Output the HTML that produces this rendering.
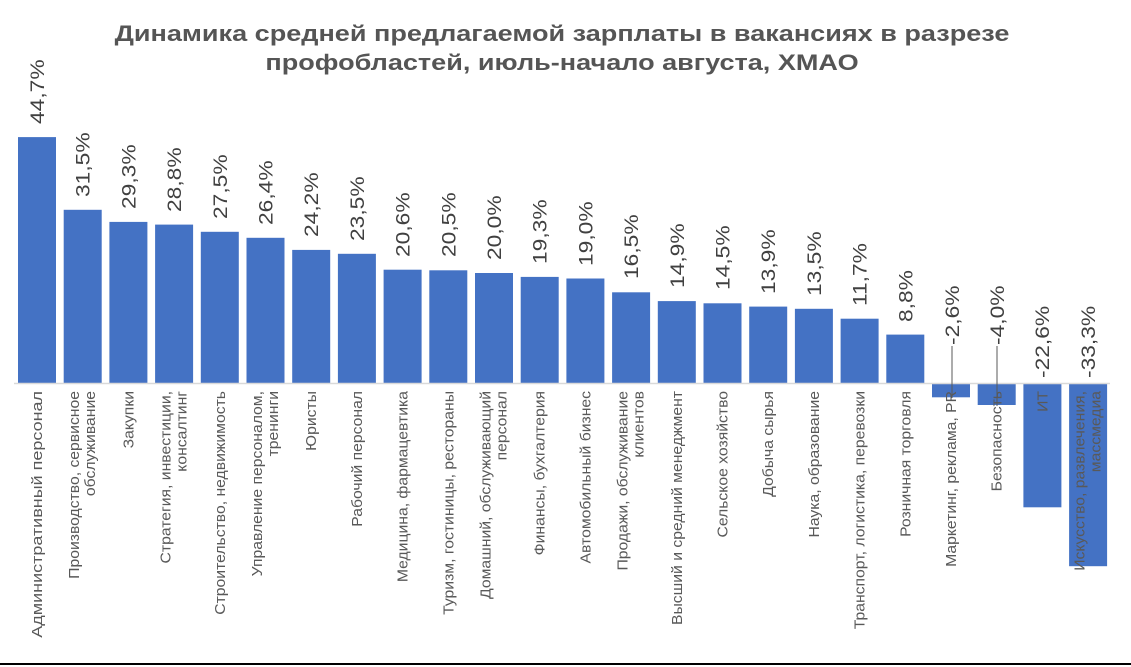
<!DOCTYPE html>
<html><head><meta charset="utf-8"><style>
body{margin:0;background:#fff;}
svg{display:block;font-family:"Liberation Sans",Arial,sans-serif;}
.v{font-size:19px;fill:#404040;}
.c{font-size:15px;fill:#595959;}
.t{font-size:22px;font-weight:bold;fill:#555;}
</style></head><body>
<svg width="1131" height="667" viewBox="0 0 1131 667">
<text class="t" transform="translate(562,41) scale(1.23,1)" text-anchor="middle">Динамика средней предлагаемой зарплаты в вакансиях в разрезе</text>
<text class="t" transform="translate(562,70) scale(1.23,1)" text-anchor="middle">профобластей, июль-начало августа, ХМАО</text>
<g fill="#4472c4">
<rect x="18" y="137.1" width="38" height="245.9"/>
<rect x="63.7" y="209.8" width="38" height="173.2"/>
<rect x="109.4" y="221.9" width="38" height="161.1"/>
<rect x="155.1" y="224.6" width="38" height="158.4"/>
<rect x="200.8" y="231.8" width="38" height="151.2"/>
<rect x="246.5" y="237.8" width="38" height="145.2"/>
<rect x="292.2" y="249.9" width="38" height="133.1"/>
<rect x="337.9" y="253.8" width="38" height="129.2"/>
<rect x="383.6" y="269.7" width="38" height="113.3"/>
<rect x="429.3" y="270.3" width="38" height="112.7"/>
<rect x="475" y="273" width="38" height="110"/>
<rect x="520.7" y="276.9" width="38" height="106.1"/>
<rect x="566.4" y="278.5" width="38" height="104.5"/>
<rect x="612.1" y="292.3" width="38" height="90.7"/>
<rect x="657.8" y="301.1" width="38" height="81.9"/>
<rect x="703.5" y="303.3" width="38" height="79.7"/>
<rect x="749.2" y="306.6" width="38" height="76.4"/>
<rect x="794.9" y="308.8" width="38" height="74.2"/>
<rect x="840.6" y="318.7" width="38" height="64.3"/>
<rect x="886.3" y="334.6" width="38" height="48.4"/>
<rect x="932" y="384" width="38" height="13.3"/>
<rect x="977.7" y="384" width="38" height="21"/>
<rect x="1023.4" y="384" width="38" height="123.3"/>
<rect x="1069.1" y="384" width="38" height="182.2"/>
</g>
<line x1="14" y1="383.5" x2="1110" y2="383.5" stroke="#d9d9d9" stroke-width="1.5"/>
<line x1="0" y1="664" x2="1131" y2="664" stroke="#000" stroke-width="2"/>
<line x1="952" y1="346" x2="952" y2="398" stroke="#595959"/>
<line x1="997" y1="346" x2="997" y2="406" stroke="#595959"/>
<g class="v">
<text transform="translate(44,124) rotate(-90) scale(1.2,1)">44,7%</text>
<text transform="translate(89.7,197) rotate(-90) scale(1.2,1)">31,5%</text>
<text transform="translate(135.4,209) rotate(-90) scale(1.2,1)">29,3%</text>
<text transform="translate(181.1,212) rotate(-90) scale(1.2,1)">28,8%</text>
<text transform="translate(226.8,219) rotate(-90) scale(1.2,1)">27,5%</text>
<text transform="translate(272.5,225) rotate(-90) scale(1.2,1)">26,4%</text>
<text transform="translate(318.2,237) rotate(-90) scale(1.2,1)">24,2%</text>
<text transform="translate(363.9,241) rotate(-90) scale(1.2,1)">23,5%</text>
<text transform="translate(409.6,257) rotate(-90) scale(1.2,1)">20,6%</text>
<text transform="translate(455.3,257) rotate(-90) scale(1.2,1)">20,5%</text>
<text transform="translate(501,260) rotate(-90) scale(1.2,1)">20,0%</text>
<text transform="translate(546.7,264) rotate(-90) scale(1.2,1)">19,3%</text>
<text transform="translate(592.4,266) rotate(-90) scale(1.2,1)">19,0%</text>
<text transform="translate(638.1,279) rotate(-90) scale(1.2,1)">16,5%</text>
<text transform="translate(683.8,288) rotate(-90) scale(1.2,1)">14,9%</text>
<text transform="translate(729.5,290) rotate(-90) scale(1.2,1)">14,5%</text>
<text transform="translate(775.2,294) rotate(-90) scale(1.2,1)">13,9%</text>
<text transform="translate(820.9,296) rotate(-90) scale(1.2,1)">13,5%</text>
<text transform="translate(866.6,306) rotate(-90) scale(1.2,1)">11,7%</text>
<text transform="translate(912.3,322) rotate(-90) scale(1.2,1)">8,8%</text>
<text transform="translate(959,345) rotate(-90) scale(1.2,1)">-2,6%</text>
<text transform="translate(1004,345) rotate(-90) scale(1.2,1)">-4,0%</text>
<text transform="translate(1049,378) rotate(-90) scale(1.2,1)">-22,6%</text>
<text transform="translate(1095,378) rotate(-90) scale(1.2,1)">-33,3%</text>
</g>
<g class="c" text-anchor="end">
<text transform="translate(42,391) rotate(-90) scale(1.2,1)">Административный персонал</text>
<text transform="translate(79,391) rotate(-90) scale(1.05,1)"><tspan x="0">Производство, сервисное</tspan><tspan x="0" dy="16">обслуживание</tspan></text>
<text transform="translate(133.4,391) rotate(-90) scale(1.05,1)">Закупки</text>
<text transform="translate(170.6,391) rotate(-90) scale(1.05,1)"><tspan x="0">Стратегия, инвестиции,</tspan><tspan x="0" dy="16">консалтинг</tspan></text>
<text transform="translate(224.8,391) rotate(-90) scale(1.05,1)">Строительство, недвижимость</text>
<text transform="translate(262,391) rotate(-90) scale(1.05,1)"><tspan x="0">Управление персоналом,</tspan><tspan x="0" dy="16">тренинги</tspan></text>
<text transform="translate(316.2,391) rotate(-90) scale(1.05,1)">Юристы</text>
<text transform="translate(361.9,391) rotate(-90) scale(1.05,1)">Рабочий персонал</text>
<text transform="translate(407.6,391) rotate(-90) scale(1.05,1)">Медицина, фармацевтика</text>
<text transform="translate(453.3,391) rotate(-90) scale(1.05,1)">Туризм, гостиницы, рестораны</text>
<text transform="translate(490.5,391) rotate(-90) scale(1.05,1)"><tspan x="0">Домашний, обслуживающий</tspan><tspan x="0" dy="16">персонал</tspan></text>
<text transform="translate(544.7,391) rotate(-90) scale(1.05,1)">Финансы, бухгалтерия</text>
<text transform="translate(590.4,391) rotate(-90) scale(1.05,1)">Автомобильный бизнес</text>
<text transform="translate(627.6,391) rotate(-90) scale(1.05,1)"><tspan x="0">Продажи, обслуживание</tspan><tspan x="0" dy="16">клиентов</tspan></text>
<text transform="translate(681.8,391) rotate(-90) scale(1.05,1)">Высший и средний менеджмент</text>
<text transform="translate(727.5,391) rotate(-90) scale(1.05,1)">Сельское хозяйство</text>
<text transform="translate(773.2,391) rotate(-90) scale(1.05,1)">Добыча сырья</text>
<text transform="translate(818.9,391) rotate(-90) scale(1.05,1)">Наука, образование</text>
<text transform="translate(864.6,391) rotate(-90) scale(1.05,1)">Транспорт, логистика, перевозки</text>
<text transform="translate(910.3,391) rotate(-90) scale(1.05,1)">Розничная торговля</text>
<text transform="translate(956,391) rotate(-90) scale(1.05,1)">Маркетинг, реклама, PR</text>
<text transform="translate(1001.7,391) rotate(-90) scale(1.05,1)">Безопасность</text>
<text transform="translate(1047.4,391) rotate(-90) scale(1.05,1)">ИТ</text>
<text transform="translate(1084.6,391) rotate(-90) scale(1.05,1)"><tspan x="0">Искусство, развлечения,</tspan><tspan x="0" dy="16">массмедиа</tspan></text>
</g>
</svg>
</body></html>
